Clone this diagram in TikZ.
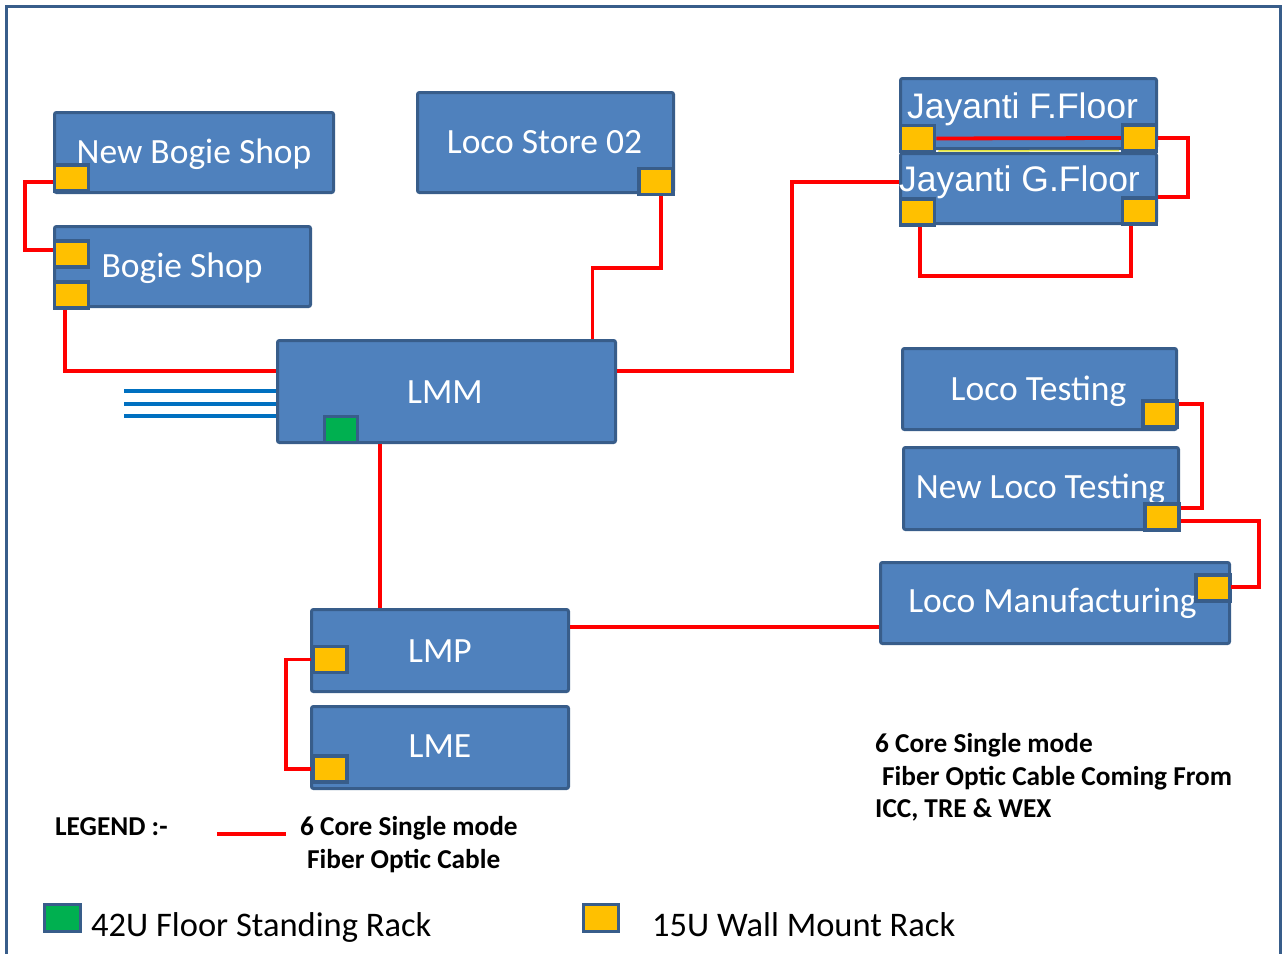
\documentclass[tikz,border=0pt]{standalone}
\usepackage{fontspec}
\setmainfont{Carlito}
\newfontfamily\arialfont{Liberation Sans}
\definecolor{boxfill}{HTML}{4F81BD}
\definecolor{boxline}{HTML}{385D8A}
\definecolor{rackyellow}{HTML}{FFC000}
\definecolor{rackgreen}{HTML}{00B050}
\definecolor{cablered}{HTML}{FF0000}
\definecolor{linkblue}{HTML}{0070C0}
\definecolor{seam}{HTML}{E4E43A}
\tikzset{
  frame/.style={draw=boxline, line width=3pt},
  box/.style={draw=boxline, fill=boxfill, line width=3pt, rounded corners=2pt, inner sep=0pt},
  rack/.style={draw=boxline, fill=rackyellow, line width=3.5pt, minimum width=34pt, minimum height=26pt, inner sep=0pt},
  bigrack/.style={rack, fill=rackgreen, minimum width=33pt},
  lbl/.style={text=white, font=\fontsize{35.5}{42}\selectfont, anchor=base, inner sep=0pt},
  albl/.style={text=white, font=\arialfont\fontsize{35.5}{42}\selectfont, anchor=base, inner sep=0pt},
  note/.style={font=\bfseries\fontsize{27.3}{32}\selectfont, anchor=base west, inner sep=0pt},
  keytext/.style={font=\fontsize{34.5}{40}\selectfont, anchor=base west, inner sep=0pt},
  cable/.style={draw=cablered, line width=3.8pt},
  link/.style={draw=linkblue, line width=3.5pt},
}
\begin{document}
\begin{tikzpicture}[x=1pt,y=-1pt]
\useasboundingbox (0,0) rectangle (1284,953);
\draw[frame] (6,975) -- (6,6) -- (1280,6) -- (1280,975);

% buildings
\node[box, minimum width=279pt, minimum height=80pt] (nbs) at (194,152.5) {};
\node[box, minimum width=256pt, minimum height=80pt] (bs) at (182.5,266.5) {};
\node[box, minimum width=256pt, minimum height=100pt] (ls) at (545.5,142.5) {};
\node[box, minimum width=256pt, minimum height=70pt] (jf) at (1028.5,113.5) {};
\node[box, minimum width=256pt, minimum height=70pt] (jg) at (1028.5,188.5) {};
\node[box, minimum width=338pt, minimum height=102pt] (lmm) at (446.5,391.5) {};
\node[box, minimum width=257pt, minimum height=82pt] (lmp) at (440,650.5) {};
\node[box, minimum width=257pt, minimum height=82pt] (lme) at (440,747.5) {};
\node[box, minimum width=349pt, minimum height=81pt] (lmf) at (1055,603) {};
\node[box, minimum width=274pt, minimum height=81pt] (lt) at (1039.5,389) {};
\node[box, minimum width=275pt, minimum height=82pt] (nlt) at (1041,488.5) {};

% building names
\node[lbl] (nbsT) at (194,163) {New Bogie Shop};
\node[lbl] (bsT) at (182,277) {Bogie Shop};
\node[lbl] (lsT) at (544.5,153) {Loco Store 02};
\node[albl] (jfT) at (1022.5,118) {Jayanti F.Floor};
\node[albl] (jgT) at (1019.5,191) {Jayanti G.Floor};
\node[lbl] (lmmT) at (445,403) {LMM};
\node[lbl] (lmpT) at (440,662) {LMP};
\node[lbl] (lmeT) at (440,757) {LME};
\node[lbl] (lmfT) at (1052.5,612) {Loco Manufacturing};
\node[lbl] (ltT) at (1038.5,400) {Loco Testing};
\node[lbl] (nltT) at (1040.5,498) {New Loco Testing};

% racks
\node[rack] (nbsR) at (71.5,178) {};
\node[rack] (bsR1) at (71.5,254) {};
\node[rack] (bsR2) at (71.5,295) {};
\node[rack] (lsR) at (656,181.5) {};
\node[rack] (jfL) at (917.5,138.5) {};
\node[rack] (jfR) at (1139.5,138) {};
\node[rack] (jgL) at (917.5,212) {};
\node[rack] (jgR) at (1139.5,211) {};
\node[bigrack] (lmmG) at (341,429.5) {};
\node[rack] (lmpR) at (330,659.5) {};
\node[rack] (lmeR) at (330,769) {};
\node[rack] (lmfR) at (1213,588) {};
\node[rack] (ltR) at (1160,414) {};
\node[rack] (nltR) at (1162,517) {};

% fibre links
\draw[cable] ([yshift=-4pt]nbsR.west) -- ++(-27.5,0) |- ([yshift=4pt]bsR1.west);
\draw[cable] ([xshift=-6.5pt]bsR2.south) |- ([yshift=20.5pt]lmm.west);
\draw[link] ([yshift=0.5pt]lmm.west) -- ++(-152,0);
\draw[link] ([yshift=-12.5pt]lmm.west) -- ++(-152,0);
\draw[link] ([yshift=-24.5pt]lmm.west) -- ++(-152,0);
\draw[cable] ([xshift=5pt]lsR.south) -- ++(0,71.5) -| ([xshift=146pt]lmm.north);
\draw[cable] ([yshift=20.5pt]lmm.east) -- ++(175,0) |- ([yshift=6.5pt]jg.west);
\draw[cable] (jfL.east) -- (jfR.west);
\draw[draw=seam, line width=1.5pt] ([yshift=-12.5pt,xshift=2pt]jfL.east) -- ([yshift=-12.5pt,xshift=-2pt]jfR.west);
\draw[cable] (jfR.east) -- ++(29.5,0) |- ([yshift=14pt]jgR.east);
\draw[cable] ([xshift=2.5pt]jgL.south) -- ++(0,49) -| ([xshift=-8.5pt]jgR.south);
\draw[cable] ([xshift=-66.5pt]lmm.south) -- ([xshift=-60pt]lmp.north);
\draw[cable] (lmpR.west) -- ++(-25,0) |- (lmeR.west);
\draw[cable] ([yshift=23.5pt]lmp.east) -- ([yshift=23.5pt]lmp.east -| lmf.west);
\draw[cable] ([yshift=10pt]ltR.east) -- ++(23,0) |- ([yshift=9pt]nltR.east);
\draw[cable] ([yshift=-4pt]nltR.east) -- ++(78,0) |- ([yshift=16pt]lmf.east);

% incoming fibre note
\node[note] (in1) at (875,752) {6 Core Single mode};
\node[note] (in2) at (882,785) {Fiber Optic Cable Coming From};
\node[note] (in3) at (875,817) {ICC, TRE \& WEX};

% legend
\node[note] (legT) at (55,835) {LEGEND :-};
\coordinate (keyA) at (217,834);
\coordinate (keyB) at (286,834);
\draw[cable] (keyA) -- (keyB);
\node[note] (key1) at (300,835) {6 Core Single mode};
\node[note] (key2) at (307,868) {Fiber Optic Cable};
\node[bigrack, minimum width=36pt, minimum height=27pt] (keyG) at (62.5,918) {};
\node[keytext] (keyGT) at (91,936) {42U Floor Standing Rack};
\node[rack, minimum width=35pt, minimum height=27pt] (keyY) at (601,918) {};
\node[keytext] (keyYT) at (652,936) {15U Wall Mount Rack};
\end{tikzpicture}
\end{document}
